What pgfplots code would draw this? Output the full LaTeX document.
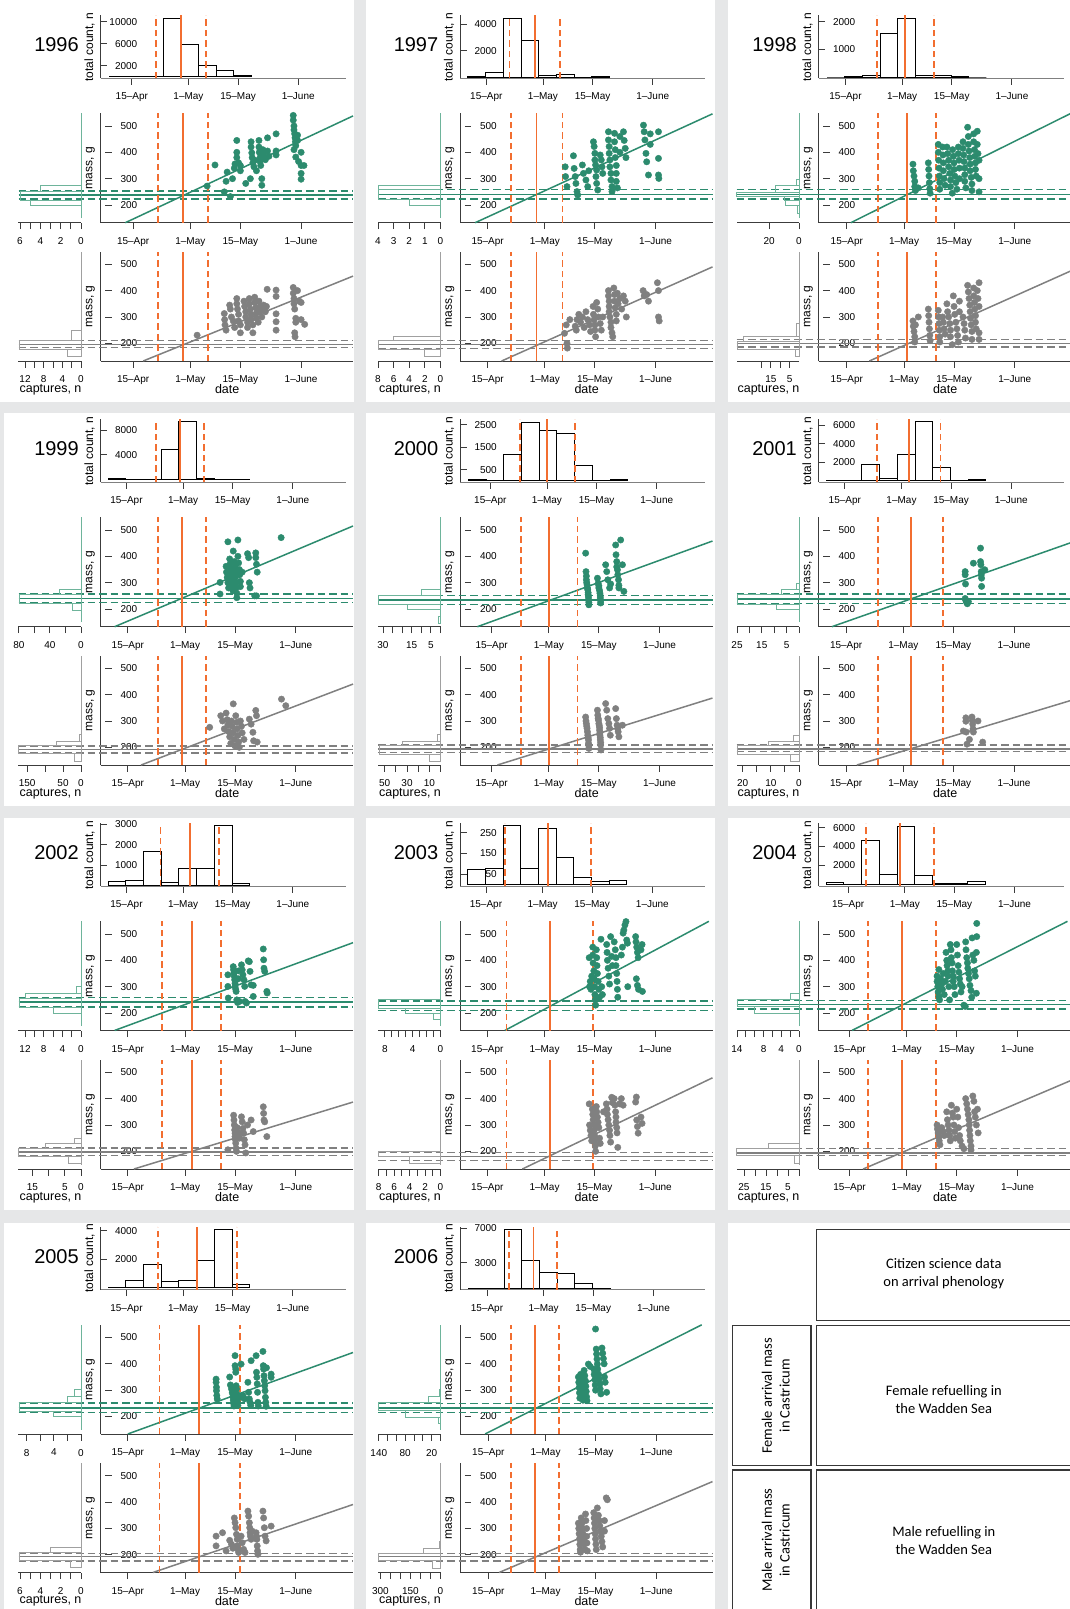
\documentclass[border=0pt]{standalone}
\usepackage{fontspec}
\setmainfont{Liberation Sans}
\newfontfamily\legfont{Carlito}
\usepackage{pgfplots}
\pgfplotsset{compat=1.18}
\definecolor{bggrey}{RGB}{230,231,232}
\definecolor{grn}{RGB}{44,139,110}
\definecolor{lgrn}{RGB}{110,180,155}
\definecolor{gry}{RGB}{128,128,128}
\definecolor{lgry}{RGB}{160,160,160}
\definecolor{orng}{RGB}{242,110,48}
\definecolor{axc}{RGB}{60,60,60}
\definecolor{boxc}{RGB}{55,55,55}
\newcommand\tkf{\fontsize{10}{12}\selectfont}
\newcommand\axf{\fontsize{12}{14}\selectfont}
\newcommand\lbf{\fontsize{12.5}{14}\selectfont}
\pgfplotsset{
 common/.style={scale only axis, anchor=south west,
   /pgf/number format/assume math mode=true,
   /pgf/number format/1000 sep={},
   scaled ticks=false,
   tick label style={font=\tkf},
   axis line style={draw=axc, line width=1pt},
   tick style={draw=axc, line width=0.9pt},
   tick align=outside, major tick length=6.5pt,
   axis x line*=bottom,
   xticklabel style={anchor=north, inner sep=0pt, yshift=-8.1pt}},
 datex/.style={xtick={15,31,45,62}, xticklabels={15\textendash Apr,1\textendash May,15\textendash May,1\textendash June}},
 top/.style={common, datex, width=245pt, height=63pt, axis y line*=left,
   at={(\ox pt+100pt,-\oy pt-78pt)},
   x axis line style={draw=gray},
   every y tick/.append style={xshift=6.5pt},
   yticklabel style={anchor=east, inner sep=0pt, xshift=43.5pt}},
 sc/.style={common, datex, width=252.5pt, height=109.4pt, ymin=133, ymax=548, ytick={200,300,400,500}, axis y line*=left, clip=false,
   xmin=\scx, xmax=\scxx,
   every y tick/.append style={xshift=11.3pt},
   yticklabel style={anchor=east, inner sep=0pt, xshift=43.5pt}},
 side/.style={common, width=62.5pt, height=109.4pt, x dir=reverse, xmin=0, ymin=133, ymax=548, axis y line=none, clip=false},
 atF/.style={at={(\ox pt+100pt,-\oy pt-222.7pt)}},
 atM/.style={at={(\ox pt+100pt,-\oy pt-361pt)}},
 atSF/.style={at={(\ox pt+18pt,-\oy pt-222.7pt)}},
 atSM/.style={at={(\ox pt+18pt,-\oy pt-361pt)}},
 fdot/.style={only marks, mark=*, mark size=3.2pt, grn, mark options={draw=grn, fill=grn}},
 mdot/.style={only marks, mark=*, mark size=3.2pt, gry, mark options={draw=gry, fill=gry}},
 fbar/.style={xbar interval, draw=lgrn, fill=none, line width=0.9pt, mark=none},
 mbar/.style={xbar interval, draw=lgry, fill=none, line width=0.9pt, mark=none},
 tbar/.style={ybar interval, draw=black, fill=none, line width=0.9pt, mark=none},
}
\newcommand\setblock[7]{\def\ox{#1}\def\oy{#2}\def\scx{#3}\def\tpx{#4}\def\oa{#5}\def\ob{#6}\def\oc{#7}%
 \pgfmathsetmacro\scxx{#3+70.66}\pgfmathsetmacro\tpxx{#4+69.2}\pgfmathsetmacro\hxl{#3-22.94}}
\newcommand\orl[2]{%
 \addplot[orng, line width=1.7pt, mark=none, dash pattern=on 6.5pt off 4pt] coordinates {(\oa,#1)(\oa,#2)};
 \addplot[orng, line width=1.7pt, mark=none] coordinates {(\ob,#1)(\ob,#2)};
 \addplot[orng, line width=1.7pt, mark=none, dash pattern=on 6.5pt off 4pt] coordinates {(\oc,#1)(\oc,#2)};}
\newcommand\hlines[4]{%
 \addplot[#1, line width=1.5pt, mark=none] coordinates {(\hxl,#2)(\scxx,#2)};
 \addplot[#1, line width=1.5pt, mark=none, dash pattern=on 7.5pt off 4pt] coordinates {(\hxl,#3)(\scxx,#3)};
 \addplot[#1, line width=1.5pt, mark=none, dash pattern=on 7.5pt off 4pt] coordinates {(\hxl,#4)(\scxx,#4)};}
\newcommand\blab[1]{%
 \node[font=\fontsize{20}{23}\selectfont] at (\ox+56,-\oy-45) {#1};
 \node[font=\axf, rotate=90] at (\ox+89,-\oy-47) {total count, n};
 \node[font=\axf, rotate=90] at (\ox+90,-\oy-168) {mass, g};
 \node[font=\axf, rotate=90] at (\ox+90,-\oy-306.5) {mass, g};
 \node[font=\lbf] at (\ox+50,-\oy-389.5) {captures, n};
 \node[font=\lbf] at (\ox+226.7,-\oy-389.5) {date};}
\begin{document}
\begin{tikzpicture}[x=1pt,y=1pt]
\useasboundingbox (0,0) rectangle (1070,-1609);
\clip (0,0) rectangle (1070,-1609);
\fill[bggrey] (0,0) rectangle (1070,-1609);
\fill[white] (0,0) rectangle (354,-402);
\fill[white] (366,0) rectangle (715,-402);
\fill[white] (728,0) rectangle (1070,-402);
\fill[white] (4,-413) rectangle (354,-806);
\fill[white] (366,-413) rectangle (715,-806);
\fill[white] (728,-413) rectangle (1070,-806);
\fill[white] (4,-818) rectangle (354,-1209.5);
\fill[white] (366,-818) rectangle (715,-1209.5);
\fill[white] (728,-818) rectangle (1070,-1209.5);
\fill[white] (4,-1223) rectangle (354,-1609);
\fill[white] (366,-1223) rectangle (715,-1609);
\fill[white] (728,-1223) rectangle (1070,-1609);

%================ 1996
\setblock{0.5}{0}{5.86}{6.15}{21.9}{28.9}{35.9}
\blab{1996}
\begin{axis}[top, xmin=\tpx, xmax=\tpxx, ymin=-242, ymax=11211, ytick={2000,6000,10000}]
\addplot[tbar] coordinates {(8.8,120)(13.8,0)(18.8,60)(23.8,10600)(28.8,5900)(33.8,2000)(38.8,1090)(43.8,180)(48.8,0)};
\orl{-242}{11211}
\end{axis}
\begin{axis}[sc, atF]
\addplot[fdot] coordinates {(35.7,272)(37.9,352)(40.5,250)(41,290)(41.3,325)(42.2,232)(42.8,300)(43.3,340)(43.5,356)(44,445)(44,400)(44,380)(44.5,360)(45,330)(45,350)(46.5,282)(47.8,300)(48,440)(48,420)(48.2,398)(48.3,380)(48.5,360)(48.8,345)(49,370)(49.5,330)(50.2,445)(50.2,420)(50.3,400)(50.5,380)(50.5,365)(50.7,350)(51,300)(51,275)(51.3,410)(51.5,390)(52,372)(52.6,455)(52.6,405)(53,385)(55,470)(55,405)(55,390)(59.8,540)(59.8,522)(60,500)(60,485)(60.2,470)(60.3,455)(60.4,440)(60.5,425)(60,410)(60.5,382)(61,465)(61,445)(61.3,365)(62,400)(62,350)(62,320)(62,298)(62.8,350)};
\addplot[grn, line width=1.5pt, mark=none] coordinates {(12.8,133)(\scxx,538)};
\hlines{grn}{238}{222}{254}
\orl{133}{548}
\end{axis}
\begin{axis}[sc, atM]
\addplot[mdot] coordinates {(32.9,231)(40.5,313)(40.6,290)(40.7,270)(41,250)(42,345)(42.2,330)(42.5,300)(43,285)(43.4,260)(44,370)(44,350)(44.2,330)(44.5,310)(44.5,285)(45,270)(45,240)(46,360)(46.2,340)(46.5,320)(46.5,300)(47,280)(47,260)(47.5,370)(47.5,350)(47.8,330)(48,310)(48,290)(48.5,270)(48.5,240)(49,375)(49,355)(49.3,335)(49.5,315)(49.5,295)(50,280)(50.2,360)(50.5,340)(50.5,320)(51,300)(51,330)(51.5,345)(52,320)(52.3,340)(52.5,405)(55,402)(55,378)(55,312)(55,282)(55,250)(59.8,412)(59.8,390)(60,370)(60,350)(60.2,330)(60.5,295)(60.5,280)(60.2,240)(60.3,225)(61,400)(61.5,360)(62,355)(62,290)(63,272)};
\addplot[gry, line width=1.5pt, mark=none] coordinates {(17.8,133)(\scxx,455)};
\hlines{gry}{196}{184}{210}
\orl{133}{548}
\end{axis}
\begin{axis}[side, atSF, xmax=6.15, xtick={0,...,6}, xticklabels={0,,2,,4,,6}]
\addplot[fbar] coordinates {(5,197)(6,219)(4,251)(0,276)};
\addplot[lgrn, line width=0.9pt, mark=none] coordinates {(0,150)(0,548)};
\end{axis}
\begin{axis}[side, atSM, xmax=13.4, xtick={0,2,...,12}, xticklabels={0,,4,,8,,12}]
\addplot[mbar] coordinates {(3,150)(13.3,177)(2,210)(0,250)};
\addplot[lgry, line width=0.9pt, mark=none] coordinates {(0,150)(0,548)};
\end{axis}

%================ 1997
\setblock{360}{0}{7.26}{7.56}{21.5}{28.7}{35.9}
\blab{1997}
\begin{axis}[top, xmin=\tpx, xmax=\tpxx, ymin=-50, ymax=4675, ytick={2000,4000}]
\addplot[tbar] coordinates {(9.8,100)(14.8,350)(19.8,4430)(24.8,2750)(29.8,150)(34.8,220)(39.8,10)(44.8,80)(49.8,0)};
\orl{-50}{4675}
\end{axis}
\begin{axis}[sc, atF]
\addplot[fdot] coordinates {(36.7,345)(36.8,308)(37.2,270)(39,387)(39.2,339)(39.5,308)(39.7,282)(40,251)(40.2,238)(41.5,352)(41.8,320)(42.5,295)(43,270)(43.3,330)(44.6,440)(44.8,422)(45,396)(45,371)(45.2,352)(45.5,333)(45.3,308)(45.5,282)(45.8,257)(46.5,390)(46.8,371)(47,345)(47.2,320)(48.8,478)(48.8,447)(49,422)(49,396)(49.2,371)(49.2,345)(49.5,320)(49.5,295)(49.8,270)(49.8,251)(50.5,472)(50.5,440)(50.7,410)(50.7,380)(51,350)(51,320)(51,290)(51.3,265)(52,460)(52,400)(53,478)(53.2,445)(53.5,415)(53.7,380)(58.6,503)(58.8,478)(59,447)(59.3,396)(59.5,364)(60,314)(60.5,470)(60.5,430)(62.8,478)(62.8,377)(62.8,314)(62.9,301)};
\addplot[grn, line width=1.5pt, mark=none] coordinates {(11.5,133)(\scxx,546)};
\hlines{grn}{240.5}{222.8}{259.5}
\orl{133}{548}
\end{axis}
\begin{axis}[sc, atM]
\addplot[mdot] coordinates {(36.5,238)(37,270)(37.2,200)(37.3,182)(38,290)(39.5,265)(39.8,250)(40,290)(40.5,310)(41,280)(41.5,300)(42,260)(42.5,320)(43,290)(43.5,270)(43.8,245)(44.5,340)(44.6,310)(44.8,290)(45,270)(45,250)(45.2,225)(45.5,355)(45.8,330)(46,300)(46.5,275)(46.8,250)(47.2,300)(48.8,400)(48.8,380)(49,360)(49,340)(49,320)(49.2,300)(49.5,280)(49.5,260)(49.8,240)(50,225)(50.3,410)(50.5,385)(50.5,360)(50.7,335)(51,310)(51,285)(51.3,390)(51.5,350)(52,370)(52.5,330)(53,380)(53.5,360)(53.8,300)(58.5,400)(58.8,380)(59.5,385)(60,360)(62.5,430)(62.8,400)(62.8,300)(63,285)};
\addplot[gry, line width=1.5pt, mark=none] coordinates {(18.9,133)(\scxx,490)};
\hlines{gry}{196}{181}{210}
\orl{133}{548}
\end{axis}
\begin{axis}[side, atSF, xmax=4.0, xtick={0,...,4}, xticklabels={0,1,2,3,4}]
\addplot[fbar] coordinates {(2,197)(3.95,223)(3.95,259)(0,276)};
\addplot[lgrn, line width=0.9pt, mark=none] coordinates {(0,150)(0,548)};
\end{axis}
\begin{axis}[side, atSM, xmax=8.0, xtick={0,2,...,8}, xticklabels={0,2,4,6,8}]
\addplot[mbar] coordinates {(2,150)(7.95,177)(6,210)(0,225)};
\addplot[lgry, line width=0.9pt, mark=none] coordinates {(0,150)(0,548)};
\end{axis}

%================ 1998
\setblock{718.5}{0}{7.07}{7.37}{23.8}{31.8}{39.9}
\blab{1998}
\begin{axis}[top, xmin=\tpx, xmax=\tpxx, ymin=-36, ymax=2241, ytick={1000,2000}]
\addplot[tbar] coordinates {(9.8,0)(14.8,20)(19.8,60)(24.8,1580)(29.8,2120)(34.8,40)(39.8,40)(44.8,30)(49.8,0)(54.8,0)};
\orl{-36}{2241}
\end{axis}
\begin{axis}[sc, atF]
\addplot[fdot] coordinates {(33.5,355)(33.6,330)(33.8,310)(34,290)(34,270)(34.2,255)(35,265)(37.8,360)(37.9,335)(38,310)(38.1,285)(38.2,262)(38.3,245)(40.6,430)(40.6,400)(40.7,370)(40.8,340)(40.9,310)(41,285)(41,260)(41.8,420)(41.9,390)(42,360)(42,330)(42.2,300)(42.5,275)(43,420)(43.2,395)(43.5,370)(43.5,345)(43.8,320)(44,295)(44,270)(44.5,245)(44.6,410)(44.8,385)(45,360)(45,335)(45.2,310)(45.5,285)(45.8,260)(46.2,420)(46.2,395)(46.4,370)(46.5,340)(46.5,300)(47.5,440)(47.5,415)(47.7,390)(47.8,365)(48,340)(48,315)(48,290)(48.3,265)(48.8,495)(49,460)(49,430)(49.2,405)(49.4,380)(49.5,355)(49.5,330)(49.8,305)(50,280)(50,255)(50.5,470)(50.5,440)(50.7,410)(50.8,385)(51,360)(51,335)(51.2,310)(51.5,480)(51.5,430)(51.7,395)(52,370)(52,300)(52,250)};
\addplot[grn, line width=1.5pt, mark=none] coordinates {(16.1,133)(\scxx,548)};
\hlines{grn}{240.5}{222.8}{259.5}
\orl{133}{548}
\end{axis}
\begin{axis}[sc, atM]
\addplot[mdot] coordinates {(33.5,285)(33.6,265)(33.8,245)(34,225)(34,205)(34.2,270)(35,300)(37.8,330)(37.9,305)(38,280)(38.1,255)(38.2,230)(38.3,210)(40.6,325)(40.7,300)(40.8,275)(40.9,250)(41,225)(41,205)(41.8,300)(42,280)(42.2,255)(42.5,235)(43,350)(43.2,320)(43.5,300)(43.8,275)(44,250)(44,225)(44.5,195)(44.8,380)(45,340)(45.2,310)(45.5,280)(45.8,255)(46,230)(46.2,205)(46.5,360)(46.5,320)(47.5,300)(47.8,275)(48,250)(48.2,220)(48.8,420)(49,395)(49.2,370)(49.4,345)(49.5,320)(49.6,295)(49.8,270)(50,245)(50,215)(50.5,410)(50.5,380)(50.7,355)(50.8,330)(51,305)(51,280)(51.2,255)(51.5,400)(51.7,370)(52,430)(52,340)(52,240)(52,215)};
\addplot[gry, line width=1.5pt, mark=none] coordinates {(21.3,133)(\scxx,475)};
\hlines{gry}{200}{187}{215}
\orl{133}{548}
\end{axis}
\begin{axis}[side, atSF, xmax=41.9, xtick={0,20}, xticklabels={0,20}]
\addplot[fbar] coordinates {(1,168)(9,197)(10,219)(41.8,232)(16,247)(2,276)(0,297)};
\addplot[lgrn, line width=0.9pt, mark=none] coordinates {(0,150)(0,548)};
\end{axis}
\begin{axis}[side, atSM, xmax=33.3, xtick={5,10,15,20}, xticklabels={5,,15,}]
\addplot[mbar] coordinates {(2,152)(33,177)(29.5,206)(1.5,228)(0,276)};
\addplot[lgry, line width=0.9pt, mark=none] coordinates {(0,150)(0,548)};
\end{axis}

%================ 1999
\setblock{0.5}{404}{7.35}{7.66}{23.4}{30.2}{36.9}
\blab{1999}
\begin{axis}[top, xmin=\tpx, xmax=\tpxx, ymin=-378, ymax=9783, ytick={4000,8000}]
\addplot[tbar] coordinates {(9.8,160)(14.8,0)(19.8,0)(24.8,4870)(29.8,9400)(34.8,160)(39.8,0)(44.8,60)(49.8,0)};
\orl{-378}{9783}
\end{axis}
\begin{axis}[sc, atF]
\addplot[fdot] coordinates {(40.8,301)(40.8,257)(42.5,362)(42.6,340)(42.8,320)(43,300)(43,455)(43.2,280)(43.5,390)(43.6,370)(43.8,350)(44,330)(44,310)(44.2,290)(44.4,270)(44.5,420)(44.8,380)(45,360)(45,340)(45.1,320)(45.2,300)(45.3,280)(45.5,260)(45.5,243)(45.8,462)(45.8,400)(46,375)(46.2,350)(46.3,330)(46.5,305)(46.5,285)(47,340)(48.5,410)(48.8,395)(49,300)(49.2,280)(50.5,250)(50.8,413)(50.8,395)(51,370)(51.2,340)(51,250)(57.9,471)};
\addplot[grn, line width=1.5pt, mark=none] coordinates {(11.3,133)(\scxx,515)};
\hlines{grn}{240.5}{224}{257}
\orl{133}{548}
\end{axis}
\begin{axis}[sc, atM]
\addplot[mdot] coordinates {(37.9,276)(41,320)(41.5,300)(42,270)(42.5,330)(42.8,305)(43,285)(43.2,260)(43.5,240)(43.8,215)(44,300)(44.2,280)(44.5,365)(44.5,255)(44.8,230)(45,205)(45.2,320)(45.5,295)(45.6,270)(45.8,245)(46,220)(46.2,200)(46.5,300)(46.8,280)(47,255)(47.5,230)(49,307)(49.5,288)(50,257)(50.2,225)(50.8,340)(51,320)(51.2,220)(58,383)(59.2,358)};
\addplot[gry, line width=1.5pt, mark=none] coordinates {(18.7,133)(\scxx,440)};
\hlines{gry}{191}{178.5}{206}
\orl{133}{548}
\end{axis}
\begin{axis}[side, atSF, xmax=80.5, xtick={0,20,...,80}, xticklabels={0,,40,,80}]
\addplot[fbar] coordinates {(11,196)(79.5,221)(28,257)(0,275)};
\addplot[lgrn, line width=0.9pt, mark=none] coordinates {(0,150)(0,548)};
\end{axis}
\begin{axis}[side, atSM, xmax=174, xtick={0,50,100,150}, xticklabels={0,50,,150}]
\addplot[mbar] coordinates {(19,147)(173,175)(69,206)(4,223)(0,248)};
\addplot[lgry, line width=0.9pt, mark=none] coordinates {(0,150)(0,548)};
\end{axis}

%================ 2000
\setblock{360}{404}{6.14}{6.43}{23.3}{31.0}{39.0}
\blab{2000}
\begin{axis}[top, xmin=\tpx, xmax=\tpxx, ymin=-47, ymax=2752, ytick={500,1500,2500}]
\addplot[tbar] coordinates {(8.8,56)(13.8,10)(18.8,1167)(23.8,2620)(28.8,2233)(33.8,2129)(38.8,693)(43.8,0)(48.8,56)(53.8,0)};
\orl{-47}{2752}
\end{axis}
\begin{axis}[sc, atF]
\addplot[fdot] coordinates {(41.3,412)(41.4,342)(41.5,325)(41.5,311)(41.6,300)(41.7,292)(41.8,280)(41.9,273)(42,262)(42,254)(42.1,245)(42.1,235)(42.2,225)(42.2,216)(44.6,317)(44.8,298)(45,288)(45,280)(45.2,270)(45.3,260)(45.4,250)(45.4,242)(45.5,232)(45.5,223)(46.9,368)(47.2,342)(47.5,311)(48,280)(48.3,295)(49.7,443)(49.8,406)(50,380)(50,360)(50.2,349)(50.3,330)(50.5,311)(50.6,290)(50.6,280)(51.1,462)(51.6,368)(52,267)};
\addplot[grn, line width=1.5pt, mark=none] coordinates {(11.0,133)(\scxx,458)};
\hlines{grn}{235}{218}{252}
\orl{133}{548}
\end{axis}
\begin{axis}[sc, atM]
\addplot[mdot] coordinates {(41.3,315)(41.4,300)(41.5,290)(41.6,280)(41.7,272)(41.8,259)(41.9,246)(42,236)(42.1,228)(42.1,215)(42.2,206)(42.2,196)(44.6,341)(44.7,322)(44.8,310)(44.9,303)(45,290)(45.1,284)(45.2,275)(45.2,265)(45.3,255)(45.3,246)(45.4,237)(45.4,228)(45.5,218)(45.5,209)(45.6,190)(46.9,366)(47.2,341)(47.5,309)(47.8,290)(48,272)(48.2,246)(49.7,347)(49.9,309)(50.1,284)(50.3,270)(50.4,259)(50.6,240)(51.6,284)};
\addplot[gry, line width=1.5pt, mark=none] coordinates {(16.6,133)(\scxx,387)};
\hlines{gry}{194}{181}{209}
\orl{133}{548}
\end{axis}
\begin{axis}[side, atSF, xmax=32.6, xtick={0,5,...,30}, xticklabels={,5,,15,,,30}]
\addplot[fbar] coordinates {(1,147)(0,172)(17,197)(32.5,216)(10,252)(0,273)};
\addplot[lgrn, line width=0.9pt, mark=none] coordinates {(0,150)(0,548)};
\end{axis}
\begin{axis}[side, atSM, xmax=56, xtick={0,10,...,50}, xticklabels={,10,,30,,50}]
\addplot[mbar] coordinates {(10,148)(55,174)(34,209)(3,224)(0,249)};
\addplot[lgry, line width=0.9pt, mark=none] coordinates {(0,150)(0,548)};
\end{axis}

%================ 2001
\setblock{718.5}{404}{7.26}{7.56}{24.0}{33.1}{42.0}
\blab{2001}
\begin{axis}[top, xmin=\tpx, xmax=\tpxx, ymin=-126, ymax=6685, ytick={2000,4000,6000}]
\addplot[tbar] coordinates {(9.8,60)(14.8,60)(19.8,1750)(24.8,270)(29.8,2900)(34.8,6400)(39.8,1460)(44.8,30)(49.8,110)(54.8,0)};
\orl{-126}{6685}
\end{axis}
\begin{axis}[sc, atF]
\addplot[fdot] coordinates {(48.3,342)(48.3,330)(48.4,295)(48.3,240)(48.5,232)(48.7,225)(48.9,220)(49.2,228)(50.6,374)(52.6,431)(52.6,380)(52.7,368)(52.8,342)(52.8,330)(52.9,317)(52.9,286)(53.8,349)};
\addplot[grn, line width=1.5pt, mark=none] coordinates {(11.0,133)(\scxx,452)};
\hlines{grn}{239}{221.5}{257}
\orl{133}{548}
\end{axis}
\begin{axis}[sc, atM]
\addplot[mdot] coordinates {(47.8,262)(48.5,312)(48.5,299)(48.6,258)(48.8,212)(49.5,230)(50.2,315)(50.3,302)(50.4,288)(50.5,270)(50.6,258)(51.9,300)(53.2,220)};
\addplot[gry, line width=1.5pt, mark=none] coordinates {(18.0,133)(\scxx,378)};
\hlines{gry}{194}{184}{209}
\orl{133}{548}
\end{axis}
\begin{axis}[side, atSF, xmax=25.2, xtick={0,5,...,25}, xticklabels={,5,,15,,25}]
\addplot[fbar] coordinates {(9,197)(25,216)(7,254)(1,273)(0,298)};
\addplot[lgrn, line width=0.9pt, mark=none] coordinates {(0,150)(0,548)};
\end{axis}
\begin{axis}[side, atSM, xmax=22.2, xtick={0,5,...,20}, xticklabels={0,,10,,20}]
\addplot[mbar] coordinates {(3,148)(22,174)(11,209)(2,224)(0,246)};
\addplot[lgry, line width=0.9pt, mark=none] coordinates {(0,150)(0,548)};
\end{axis}

%================ 2002
\setblock{0.5}{808}{7.35}{7.66}{24.6}{32.9}{41.1}
\blab{2002}
\begin{axis}[top, xmin=\tpx, xmax=\tpxx, ymin=-33, ymax=3065, ytick={1000,2000,3000}]
\addplot[tbar] coordinates {(9.8,180)(14.8,262)(19.8,1655)(24.8,131)(29.8,836)(34.8,820)(39.8,2940)(44.8,70)(49.8,0)};
\orl{-33}{3065}
\end{axis}
\begin{axis}[sc, atF]
\addplot[fdot] coordinates {(43,345)(43,301)(43.1,257)(44.5,376)(44.6,364)(44.7,351)(44.8,339)(44.9,326)(45,313)(45,301)(45.2,290)(45.3,282)(45.5,250)(45.7,240)(45.9,330)(46,360)(46.2,244)(46.8,383)(47,364)(47.2,345)(47.5,326)(47.7,301)(47.8,244)(48.2,238)(48.7,398)(49,395)(49.2,358)(49.5,307)(50.1,305)(50.1,263)(52.9,443)(53,402)(53.1,370)(53.3,358)(53.9,282)(54,276)};
\addplot[grn, line width=1.5pt, mark=none] coordinates {(11.3,134)(\scxx,467)};
\hlines{grn}{241.6}{222.7}{259}
\orl{133}{548}
\end{axis}
\begin{axis}[sc, atM]
\addplot[mdot] coordinates {(43,206)(44.6,337)(44.7,319)(44.8,300)(44.9,281)(45,269)(45,256)(45.1,244)(45.2,231)(45.3,212)(45.4,200)(45.6,290)(46,270)(46.2,250)(46.8,331)(47,312)(47.2,287)(47.4,269)(47.6,244)(47.8,225)(48,194)(48.5,300)(49.5,319)(50.1,275)(52.9,369)(53,344)(53.1,319)(53.3,312)(53.9,256)};
\addplot[gry, line width=1.5pt, mark=none] coordinates {(16.7,133)(\scxx,387)};
\hlines{gry}{197.5}{185}{212.5}
\orl{133}{548}
\end{axis}
\begin{axis}[side, atSF, xmax=13.4, xtick={0,2,...,12}, xticklabels={0,,4,,8,,12}]
\addplot[fbar] coordinates {(6,200)(13.3,223)(12,257)(1,276)(0,301)};
\addplot[lgrn, line width=0.9pt, mark=none] coordinates {(0,150)(0,548)};
\end{axis}
\begin{axis}[side, atSM, xmax=19.3, xtick={0,5,10,15}, xticklabels={0,5,,15}]
\addplot[mbar] coordinates {(4,154)(19.2,179)(11,212)(2,229)(0,250)};
\addplot[lgry, line width=0.9pt, mark=none] coordinates {(0,150)(0,548)};
\end{axis}

%================ 2003
\setblock{360}{808}{7.35}{7.66}{20.4}{32.5}{44.6}
\blab{2003}
\begin{axis}[top, xmin=\tpx, xmax=\tpxx, ymin=-8, ymax=298, ytick={50,150,250}]
\addplot[tbar] coordinates {(9.8,72)(14.8,79)(19.8,285)(24.8,77)(29.8,272)(34.8,129)(39.8,34)(44.8,16)(49.8,21)(54.8,0)};
\orl{-8}{298}
\end{axis}
\begin{axis}[sc, atF]
\addplot[fdot] coordinates {(43.5,410)(43.6,300)(43.8,320)(44,290)(44.2,340)(44.5,450)(44.5,420)(44.6,390)(44.8,360)(44.9,330)(45,300)(45.1,270)(45.2,250)(45.3,230)(45.5,440)(45.6,410)(45.7,380)(45.8,350)(46,320)(46.2,290)(46.4,260)(46.8,480)(47,300)(47.2,270)(48.4,460)(48.5,430)(48.6,400)(48.8,370)(49,340)(49.2,310)(49.5,490)(49.8,415)(50,380)(50.5,470)(50.8,440)(51,410)(51,380)(51.2,350)(51.3,320)(51.4,290)(51.5,260)(52.5,420)(52.8,450)(53,503)(53.2,515)(53.5,534)(53.8,547)(54,477)(54.2,465)(54.3,300)(56.5,490)(56.6,470)(56.8,450)(57,430)(57.2,410)(56.7,330)(57,305)(57.3,290)(58,440)(58.3,460)(58.4,282)};
\addplot[grn, line width=1.5pt, mark=none] coordinates {(19.9,134)(77,548)};
\hlines{grn}{228}{209}{245}
\orl{133}{548}
\end{axis}
\begin{axis}[sc, atM]
\addplot[mdot] coordinates {(43.5,380)(43.6,300)(43.8,280)(44,260)(44.2,240)(44.4,360)(44.5,340)(44.6,320)(44.8,300)(44.9,280)(45,260)(45.1,240)(45.2,220)(45.3,200)(45.5,370)(45.6,350)(45.8,330)(46,310)(46.2,290)(46.4,250)(46.6,230)(47.5,350)(48.3,380)(48.5,360)(48.6,340)(48.8,320)(49,300)(49.2,280)(49.3,260)(49.5,235)(49.8,405)(50,385)(50.5,400)(50.7,375)(50.9,350)(51,330)(51,310)(51.2,290)(51.3,270)(51.5,215)(52,380)(52.5,400)(53,375)(56.5,387)(56.7,406)(56.8,319)(57,294)(57.2,269)(58,330)(58.3,306)};
\addplot[gry, line width=1.5pt, mark=none] coordinates {(24.8,133)(\scxx,479)};
\hlines{gry}{181}{166}{196}
\orl{133}{548}
\end{axis}
\begin{axis}[side, atSF, xmax=9.0, xtick={0,...,8}, xticklabels={0,,,,4,,,,8}]
\addplot[fbar] coordinates {(1,175)(5,200)(8.9,219)(0,250)};
\addplot[lgrn, line width=0.9pt, mark=none] coordinates {(0,150)(0,548)};
\end{axis}
\begin{axis}[side, atSM, xmax=8.1, xtick={0,...,8}, xticklabels={0,,2,,4,,6,,8}]
\addplot[mbar] coordinates {(4,154)(8,179)(0,200)};
\addplot[lgry, line width=0.9pt, mark=none] coordinates {(0,150)(0,548)};
\end{axis}

%================ 2004
\setblock{718.5}{808}{6.32}{6.62}{20.1}{29.6}{39.2}
\blab{2004}
\begin{axis}[top, xmin=\tpx, xmax=\tpxx, ymin=-191, ymax=6486, ytick={2000,4000,6000}]
\addplot[tbar] coordinates {(8.8,150)(13.8,0)(18.8,4680)(23.8,990)(28.8,6100)(33.8,920)(38.8,87)(43.8,60)(48.8,260)(53.8,0)};
\orl{-191}{6486}
\end{axis}
\begin{axis}[sc, atF]
\addplot[fdot] coordinates {(39.5,340)(39.5,320)(39.7,300)(39.8,280)(40,262)(40,365)(40.2,250)(40.5,330)(40.8,310)(41,290)(41.2,350)(41.5,270)(41.8,320)(42,430)(42.2,400)(42.3,380)(42.5,360)(42.6,340)(42.8,300)(43,250)(43.2,460)(43.4,440)(43.5,410)(43.7,390)(43.8,360)(44,340)(44,320)(44.3,300)(44.5,270)(45,460)(45.2,420)(45.4,380)(45.6,355)(45.8,330)(46,310)(46.2,280)(46.5,300)(47,230)(47.4,225)(47.5,470)(47.6,440)(47.8,410)(48,390)(48.1,370)(48.3,350)(48.5,330)(48.7,305)(49,285)(49.2,260)(49.3,485)(49.5,420)(49.8,400)(50,360)(50.2,340)(50.5,430)(50.6,490)(50.6,540)(50.5,275)};
\addplot[grn, line width=1.5pt, mark=none] coordinates {(15.7,134)(76,548)};
\hlines{grn}{231.5}{215}{248}
\orl{133}{548}
\end{axis}
\begin{axis}[sc, atM]
\addplot[mdot] coordinates {(39.5,300)(39.6,285)(39.8,270)(40,255)(40.1,240)(40.3,225)(40.8,290)(41.2,275)(41.5,260)(42.2,350)(42.4,320)(42.6,300)(42.8,280)(43,260)(43.2,240)(43.5,375)(43.8,345)(44,330)(44.2,300)(44.4,275)(44.6,250)(45,360)(45.3,330)(45.5,290)(45.8,260)(46,240)(46.5,220)(47,210)(47.5,400)(47.8,380)(48,360)(48.2,340)(48.4,320)(48.5,300)(48.6,280)(48.7,260)(48.8,240)(49,220)(49,205)(49.5,410)(49.8,390)(50,350)(50.2,330)(50.5,300)(50.8,360)(51,270)};
\addplot[gry, line width=1.5pt, mark=none] coordinates {(18.8,133)(\scxx,469)};
\hlines{gry}{194}{184}{210}
\orl{133}{548}
\end{axis}
\begin{axis}[side, atSF, xmax=14.1, xtick={0,2,...,14}, xticklabels={0,,4,,8,,,14}]
\addplot[fbar] coordinates {(10,200)(14,225)(2,250)(0,276)};
\addplot[lgrn, line width=0.9pt, mark=none] coordinates {(0,150)(0,548)};
\end{axis}
\begin{axis}[side, atSM, xmax=28.4, xtick={0,5,...,25}, xticklabels={,5,,15,,25}]
\addplot[mbar] coordinates {(2,154)(28.3,184)(14,212)(0,229)};
\addplot[lgry, line width=0.9pt, mark=none] coordinates {(0,150)(0,548)};
\end{axis}

%================ 2005
\setblock{0.5}{1211.5}{7.35}{7.66}{23.9}{34.9}{46.3}
\blab{2005}
\begin{axis}[top, xmin=\tpx, xmax=\tpxx, ymin=-115, ymax=4300, ytick={2000,4000}]
\addplot[tbar] coordinates {(9.8,46)(14.8,506)(19.8,1655)(24.8,483)(29.8,552)(34.8,1954)(39.8,4070)(44.8,207)(49.8,0)};
\orl{-115}{4300}
\end{axis}
\begin{axis}[sc, atF]
\addplot[fdot] coordinates {(39.7,342)(39.7,330)(39.8,311)(39.8,298)(39.9,280)(40,267)(43.5,350)(43.7,320)(44,305)(44.2,290)(44.4,275)(44.5,262)(44.6,250)(44.7,240)(45,431)(45,393)(45.2,380)(45.2,368)(45.3,317)(45.4,305)(45.5,286)(45.6,267)(45.7,254)(45.8,242)(46.7,399)(46.9,273)(47.2,280)(47.7,267)(48.6,330)(48.8,292)(49,267)(49.2,254)(49.4,242)(49.5,412)(50.9,431)(51,368)(51.1,349)(51.2,324)(51.3,292)(51.4,254)(51.5,240)(52.8,447)(52.9,393)(53,380)(53.1,355)(53.2,336)(53.3,317)(53.4,298)(53.5,273)(53.6,254)(53.7,239)(53.8,385)(55.1,361)(55.1,349)};
\addplot[grn, line width=1.5pt, mark=none] coordinates {(15,134)(\scxx,443)};
\hlines{grn}{233}{216}{252}
\orl{133}{548}
\end{axis}
\begin{axis}[sc, atM]
\addplot[mdot] coordinates {(39.7,271)(39.7,234)(41.5,284)(42.5,215)(43.5,255)(44,240)(44.4,225)(44.8,340)(45,322)(45.2,303)(45.4,278)(45.6,259)(45.6,234)(45.8,221)(46,209)(46.7,271)(47,246)(47.4,221)(47.8,209)(48.6,366)(48.8,347)(49,322)(49.1,303)(49.2,284)(49.3,271)(49.5,259)(49.8,290)(50.9,284)(51,271)(51.1,259)(51.2,234)(51.3,215)(51.4,202)(52.8,366)(53,340)(53.2,303)(53.4,271)(53.7,253)(55.1,309)};
\addplot[gry, line width=1.5pt, mark=none] coordinates {(22.0,133)(\scxx,391)};
\hlines{gry}{194}{177}{206}
\orl{133}{548}
\end{axis}
\begin{axis}[side, atSF, xmax=9.2, xtick={0,2,...,8}, xticklabels={0,,4,,8}]
\addplot[fbar] coordinates {(4,201)(9.1,219)(2,254)(1,277)(0,302)};
\addplot[lgrn, line width=0.9pt, mark=none] coordinates {(0,150)(0,548)};
\end{axis}
\begin{axis}[side, atSM, xmax=6.15, xtick={0,...,6}, xticklabels={0,,2,,4,,6}]
\addplot[mbar] coordinates {(1,152)(6.1,177)(3,209)(0,228)};
\addplot[lgry, line width=0.9pt, mark=none] coordinates {(0,150)(0,548)};
\end{axis}

%================ 2006
\setblock{360}{1211.5}{7.07}{7.37}{21.25}{28.1}{34.8}
\blab{2006}
\begin{axis}[top, xmin=\tpx, xmax=\tpxx, ymin=-115, ymax=7230, ytick={3000,7000}]
\addplot[tbar] coordinates {(9.8,30)(14.8,50)(19.8,6920)(24.8,3270)(29.8,1880)(34.8,1760)(39.8,577)(44.8,50)(49.8,0)};
\orl{-115}{7230}
\end{axis}
\begin{axis}[sc, atF]
\addplot[fdot] coordinates {(40.2,350)(40.3,330)(40.4,310)(40.5,290)(40.6,270)(40.8,360)(41,340)(41.2,320)(41.3,300)(41.4,280)(41.5,262)(41.8,375)(42,355)(42.2,335)(42.3,315)(42.4,295)(42.5,275)(42.6,260)(43,399)(43.5,390)(44.5,380)(44.6,360)(44.8,340)(44.9,320)(45,300)(45,532)(45.2,456)(45.3,437)(45.4,418)(45.5,399)(45.6,380)(45.8,361)(46,342)(46.2,324)(46.3,305)(46.5,286)(46.8,460)(47,440)(47.2,420)(47.4,400)(47.5,350)(47.7,330)(48.1,292)};
\addplot[grn, line width=1.5pt, mark=none] coordinates {(14.1,134)(74.7,548)};
\hlines{grn}{233}{216}{249}
\orl{133}{548}
\end{axis}
\begin{axis}[sc, atM]
\addplot[mdot] coordinates {(40.2,320)(40.3,300)(40.4,280)(40.5,260)(40.6,240)(40.7,220)(40.8,210)(41,340)(41.2,320)(41.4,300)(41.5,280)(41.6,260)(41.8,240)(42,220)(42.2,355)(42.3,330)(42.5,300)(42.5,270)(42.6,245)(42.7,215)(44.5,360)(44.6,340)(44.7,320)(44.8,300)(44.9,280)(45,260)(45.1,240)(45.2,220)(45.5,378)(45.8,350)(46,330)(46.2,310)(46.4,290)(46.6,270)(46.8,250)(47,230)(47.5,330)(47.5,290)(48,416)(48.3,409)};
\addplot[gry, line width=1.5pt, mark=none] coordinates {(18.0,133)(\scxx,478)};
\hlines{gry}{194}{177}{206}
\orl{133}{548}
\end{axis}
\begin{axis}[side, atSF, xmax=141.8, xtick={0,20,...,140}, xticklabels={,20,,,80,,,140}]
\addplot[fbar] coordinates {(4,172)(80,197)(140,223)(28,254)(3,277)(0,302)};
\addplot[lgrn, line width=0.9pt, mark=none] coordinates {(0,150)(0,548)};
\end{axis}
\begin{axis}[side, atSM, xmax=312, xtick={0,50,...,300}, xticklabels={0,,,150,,,300}]
\addplot[mbar] coordinates {(42,148)(308,177)(87,206)(3,224)(0,249)};
\addplot[lgry, line width=0.9pt, mark=none] coordinates {(0,150)(0,548)};
\end{axis}

%================ legend panel
\begin{scope}[draw=boxc, line width=1.3pt]
\draw (816.7,-1229.3) rectangle (1075,-1320.7);
\draw (816.7,-1325.7) rectangle (1075,-1465.7);
\draw (816.7,-1470) rectangle (1075,-1615);
\draw (732.7,-1325.7) rectangle (811,-1465.7);
\draw (732.7,-1470) rectangle (811,-1615);
\end{scope}
\begin{scope}[every node/.style={font=\legfont\fontsize{14.5}{17.7}\selectfont, align=center}]
\node at (943.8,-1274) {Citizen science data\\on arrival phenology};
\node at (943.8,-1399.5) {Female refuelling in\\the Wadden Sea};
\node at (943.8,-1540.5) {Male refuelling in\\the Wadden Sea};
\node[rotate=90] at (775.8,-1395.8) {Female arrival mass\\in Castricum};
\node[rotate=90] at (775.8,-1540) {Male arrival mass\\in Castricum};
\end{scope}
\end{tikzpicture}
\end{document}
